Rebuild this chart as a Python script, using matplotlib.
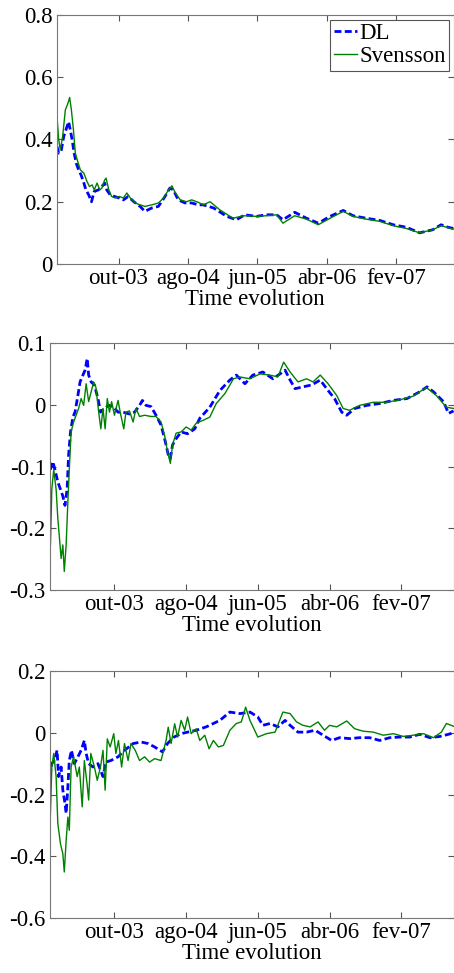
import numpy as np
import matplotlib
matplotlib.use("Agg")
import matplotlib.pyplot as plt

plt.rcParams['font.family'] = 'serif'
plt.rcParams['font.serif'] = ['Liberation Serif', 'DejaVu Serif']
plt.rcParams['font.size'] = 16.5

# x = months since Jan 2003
tick_pos = [9, 19, 29, 39, 49]
tick_labels = ['out-03', 'ago-04', 'jun-05', 'abr-06', 'fev-07']
xlabel = 'Time evolution'

# ---- panel 1 ----
p1_dl_x = [0.13, 0.37, 0.75, 1.1, 1.4, 1.8, 2.05, 2.3, 2.6, 2.9, 3.25, 3.6, 4.0, 4.3, 4.7,
           5.1, 5.3, 5.5, 6.1, 6.6, 7.0, 7.3, 7.8, 8.4, 9.1, 9.7, 10.4, 11.2, 12.1, 12.8,
           13.8, 14.75, 15.7, 16.4, 16.9, 17.6, 18.6, 19.55, 20.5, 21.2,
           22.7, 24.6, 26.0, 27.2, 28.9, 30.3, 31.8, 32.7, 34.4, 36.1, 37.8, 39.5,
           41.4, 42.8, 44.7, 46.65, 48.6, 50.5, 52.4, 54.3, 55.5, 56.5, 57.3]
p1_dl_y = [0.377, 0.356, 0.366, 0.41, 0.43, 0.457, 0.43, 0.40, 0.356, 0.324, 0.302, 0.286,
           0.26, 0.238, 0.222, 0.20, 0.217, 0.233, 0.238, 0.249, 0.26, 0.238, 0.222, 0.217,
           0.212, 0.206, 0.217, 0.20, 0.185, 0.169, 0.18, 0.185, 0.217, 0.244, 0.238, 0.206,
           0.196, 0.196, 0.19, 0.19,
           0.18, 0.153, 0.142, 0.158, 0.153, 0.158, 0.158, 0.142, 0.166, 0.147, 0.131, 0.153,
           0.172, 0.155, 0.147, 0.14, 0.126, 0.118, 0.10, 0.11, 0.126, 0.118, 0.114]
p1_sv_x = [0.13, 0.37, 0.6, 0.94, 1.33, 1.7, 1.95, 2.2, 2.5, 2.77, 3.05, 3.5, 4.0, 4.45,
           4.8, 5.2, 5.5, 5.9, 6.3, 6.6, 7.0, 7.2, 7.6, 8.0, 8.5, 9.1, 9.7, 10.2, 10.7, 11.4,
           12.1, 12.8, 13.8, 14.75, 15.5, 16.2, 16.7, 17.2, 17.9, 18.8, 19.55, 20.5, 21.2,
           22.2, 23.6, 25.5, 27.0, 28.9, 30.3, 31.8, 32.7, 34.4, 36.1, 37.8, 39.5, 41.4,
           42.8, 44.7, 46.65, 48.6, 50.5, 52.4, 54.3, 55.5, 57.3]
p1_sv_y = [0.473, 0.40, 0.366, 0.41, 0.495, 0.516, 0.535, 0.495, 0.43, 0.356, 0.334, 0.302,
           0.292, 0.265, 0.249, 0.254, 0.238, 0.26, 0.238, 0.244, 0.27, 0.276, 0.238, 0.217,
           0.212, 0.217, 0.212, 0.228, 0.212, 0.196, 0.19, 0.185, 0.19, 0.196, 0.212, 0.238,
           0.251, 0.228, 0.206, 0.20, 0.206, 0.198, 0.19,
           0.20, 0.174, 0.147, 0.155, 0.153, 0.155, 0.158, 0.131, 0.155, 0.144, 0.126, 0.147,
           0.169, 0.153, 0.144, 0.137, 0.123, 0.114, 0.10, 0.11, 0.123, 0.112]

# ---- panel 2 ----
p2_dl_x = [0.07, 0.4, 0.7, 1.1, 1.47, 1.8, 2.1, 2.4, 2.6, 2.86, 3.2, 3.5, 3.9, 4.2, 4.6,
           4.9, 5.2, 5.4, 5.75, 6.2, 6.7, 7.05, 7.6, 8.2, 8.8, 9.5, 10.2, 11.1, 11.8, 12.5,
           12.9, 13.4, 14.1, 14.8, 15.5, 16.1, 16.5, 16.8, 17.1, 17.6, 18.3, 19.2, 20.2,
           20.9, 22.3, 23.7, 25.1, 26.0, 27.2, 28.3, 29.7, 31.1, 32.1, 32.8,
           33.5, 34.2, 35.3, 36.5, 37.7, 38.8, 39.7, 40.7, 41.4, 42.5, 44.2, 46.0, 47.9, 49.8,
           51.6, 52.6, 53.5, 54.9, 55.6, 56.3]
p2_dl_y = [-0.105, -0.092, -0.105, -0.125, -0.137, -0.148, -0.163, -0.136, -0.082, -0.045,
           -0.02, -0.012, 0.015, 0.037, 0.048, 0.056, 0.075, 0.048, 0.037, 0.032, 0.01,
           -0.012, -0.006, -0.001, -0.003, -0.012, -0.012, -0.015, -0.012, -0.001, 0.007,
           -0.001, -0.003, -0.017, -0.033, -0.06, -0.081, -0.087, -0.065, -0.055, -0.044,
           -0.047, -0.039,
           -0.022, -0.004, 0.023, 0.04, 0.048, 0.034, 0.048, 0.053, 0.042, 0.05, 0.056,
           0.04, 0.026, 0.029, 0.032, 0.04, 0.023, 0.01, -0.012, -0.017, -0.006,
           -0.001, 0.002, 0.007, 0.01, 0.021, 0.029, 0.021, 0.005, -0.014, -0.01]
p2_sv_x = [0.07, 0.26, 0.53, 0.86, 1.1, 1.33, 1.56, 1.8, 2.0, 2.26, 2.5, 2.7, 2.95, 3.3,
           3.65, 4.0, 4.35, 4.7, 5.05, 5.4, 5.75, 6.1, 6.4, 6.8, 7.1, 7.4, 7.7, 8.0, 8.3, 8.6,
           9.0, 9.5, 9.8, 10.3, 10.6, 11.1, 11.6, 12.0, 12.5, 13.2, 14.1, 14.8, 15.5, 16.0,
           16.4, 16.8, 17.1, 17.6, 18.3, 19.0, 19.7, 20.4,
           21.4, 22.3, 23.2, 24.4, 25.6, 26.5, 27.9, 29.3,
           30.7, 31.8, 32.6, 33.5, 34.6, 35.8, 36.7, 37.7, 38.8, 40.0, 40.9, 41.8, 43.2, 45.1,
           47.0, 48.8, 50.7, 52.5, 53.9, 55.3, 56.3]
p2_sv_y = [-0.227, -0.137, -0.105, -0.137, -0.184, -0.216, -0.249, -0.227, -0.27, -0.227,
           -0.157, -0.105, -0.044, -0.028, -0.017, -0.006, 0.01, -0.001, 0.034, 0.005, 0.021,
           0.037, 0.029, -0.012, -0.039, -0.006, -0.039, 0.01, -0.012, 0.005, -0.017, 0.007,
           -0.012, -0.039, -0.012, -0.01, -0.028, -0.006, -0.019, -0.017, -0.019, -0.019,
           -0.028, -0.05, -0.076, -0.095, -0.065, -0.046, -0.044, -0.036, -0.041, -0.03,
           -0.025, -0.02, 0.002, 0.018, 0.042, 0.045, 0.042, 0.05,
           0.048, 0.045, 0.069, 0.053, 0.037, 0.042, 0.037, 0.048, 0.034, 0.015,
           -0.006, -0.009, -0.001, 0.004, 0.004, 0.008, 0.014, 0.028, 0.015, -0.004, -0.006]

# ---- panel 3 ----
p3_dl_x = [0.0, 0.26, 0.6, 1.0, 1.2, 1.56, 1.8, 2.1, 2.26, 2.5, 2.7, 3.0, 3.4, 3.9, 4.35,
           4.8, 5.05, 5.4, 6.0, 6.7, 7.4, 7.8, 8.5, 9.5, 10.4, 11.6, 12.7, 13.7, 14.6, 15.7,
           16.4, 17.3, 18.3, 19.2, 20.4,
           21.8, 22.8, 23.7, 25.1, 26.5, 27.9, 29.0, 29.7, 30.7, 31.8, 32.8, 33.5, 34.6, 35.8,
           37.0, 38.1, 39.3, 40.4, 41.8, 43.2, 44.6, 46.0, 47.4, 48.8, 50.2, 51.6, 53.0, 54.4,
           55.6, 56.3]
p3_dl_y = [-0.142, -0.10, -0.09, -0.057, -0.142, -0.111, -0.186, -0.229, -0.261, -0.175,
           -0.09, -0.057, -0.10, -0.078, -0.057, -0.025, -0.067, -0.10, -0.111, -0.10, -0.142,
           -0.095, -0.09, -0.078, -0.057, -0.035, -0.03, -0.035, -0.046, -0.062, -0.035,
           -0.014, -0.003, 0.002, 0.008,
           0.019, 0.03, 0.04, 0.067, 0.062, 0.067, 0.051, 0.024, 0.03, 0.019, 0.04, 0.024,
           0.002, 0.002, 0.008, -0.008, -0.025, -0.016, -0.019, -0.016, -0.016, -0.025,
           -0.016, -0.014, -0.014, -0.005, -0.016, -0.012, -0.005, 0.0]
p3_sv_x = [0.0, 0.26, 0.53, 0.86, 1.1, 1.47, 1.8, 2.0, 2.26, 2.5, 2.7, 2.95, 3.3, 3.8, 4.1,
           4.5, 4.8, 5.2, 5.4, 5.7, 6.2, 6.6, 7.05, 7.4, 7.7, 8.0, 8.4, 8.9, 9.2, 9.56, 10.0,
           10.4, 10.9, 11.3, 11.9, 12.5, 13.2, 13.9, 14.6, 15.5, 16.2, 16.5, 16.9, 17.4, 17.8,
           18.3, 18.8, 19.2, 19.7, 20.4,
           20.9, 21.6, 22.2, 22.8, 23.5, 24.2, 25.1, 26.0, 26.7, 27.3, 27.9, 29.0, 30.2, 31.4,
           32.5, 33.5, 34.4, 35.3, 36.3, 37.4, 38.3, 39.0, 40.0, 41.4, 42.5, 43.7, 45.1, 46.5,
           47.9, 49.3, 50.7, 52.1, 53.5, 54.6, 55.3, 56.3]
p3_sv_y = [-0.316, -0.111, -0.067, -0.142, -0.294, -0.36, -0.392, -0.451, -0.349, -0.273,
           -0.316, -0.111, -0.078, -0.142, -0.111, -0.24, -0.09, -0.17, -0.218, -0.067,
           -0.111, -0.154, -0.111, -0.057, -0.186, -0.02, -0.046, -0.003, -0.067, -0.025,
           -0.111, -0.035, -0.09, -0.035, -0.057, -0.09, -0.078, -0.095, -0.084, -0.09,
           -0.025, 0.018, -0.035, 0.029, -0.014, 0.04, 0.008, 0.051, -0.003, 0.013,
           -0.025, -0.008, -0.052, -0.025, -0.046, -0.041, 0.008, 0.03, 0.035, 0.083, 0.04,
           -0.014, -0.003, 0.002, 0.067, 0.062, 0.035, 0.024, 0.019, 0.035, 0.008, 0.024,
           0.019, 0.038, 0.013, 0.005, 0.002, -0.008, -0.003, -0.012, -0.008, -0.003, -0.016,
           0.002, 0.03, 0.021]

panels = [
    dict(rect=[0.1256, 0.7287, 0.8734, 0.2559], xlim=(0.13, 57.3), ylim=(0, 0.8),
         yticks=[0, 0.2, 0.4, 0.6, 0.8], ylabels=['0', '0.2', '0.4', '0.6', '0.8'],
         dl=(p1_dl_x, p1_dl_y), sv=(p1_sv_x, p1_sv_y), legend=True),
    dict(rect=[0.110, 0.3936, 0.889, 0.2539], xlim=(0.0, 56.3), ylim=(-0.3, 0.1),
         yticks=[-0.3, -0.2, -0.1, 0, 0.1], ylabels=['-0.3', '-0.2', '-0.1', '0', '0.1'],
         dl=(p2_dl_x, p2_dl_y), sv=(p2_sv_x, p2_sv_y), legend=False),
    dict(rect=[0.110, 0.0565, 0.889, 0.2539], xlim=(0.0, 56.3), ylim=(-0.6, 0.2),
         yticks=[-0.6, -0.4, -0.2, 0, 0.2], ylabels=['-0.6', '-0.4', '-0.2', '0', '0.2'],
         dl=(p3_dl_x, p3_dl_y), sv=(p3_sv_x, p3_sv_y), legend=False),
]

fig = plt.figure(figsize=(4.54, 9.73), dpi=100)

for p in panels:
    ax = fig.add_axes(p['rect'])
    ax.plot(p['dl'][0], p['dl'][1], color='#0000ff', lw=2.0, ls=(0, (2.5, 1.2)), label='DL')
    ax.plot(p['sv'][0], p['sv'][1], color='#008000', lw=1.0, label='Svensson')
    ax.set_xlim(*p['xlim'])
    ax.set_ylim(*p['ylim'])
    ax.set_xticks(tick_pos)
    ax.set_xticklabels(tick_labels)
    ax.set_yticks(p['yticks'])
    ax.set_yticklabels(p['ylabels'])
    ax.tick_params(direction='in', top=True, right=True, length=4, width=0.8,
                   color='#555555', pad=3)
    for s in ax.spines.values():
        s.set_color('#777777')
        s.set_linewidth(0.8)
    ax.set_xlabel(xlabel, labelpad=0)
    if p['legend']:
        leg = ax.legend(loc='upper right', fancybox=False, edgecolor='#555555',
                        handlelength=1.0, handletextpad=0.1, borderpad=0.15,
                        labelspacing=0.1, borderaxespad=0.2, framealpha=1)
        leg.get_frame().set_linewidth(0.8)

fig.savefig('out.png', dpi=100)
